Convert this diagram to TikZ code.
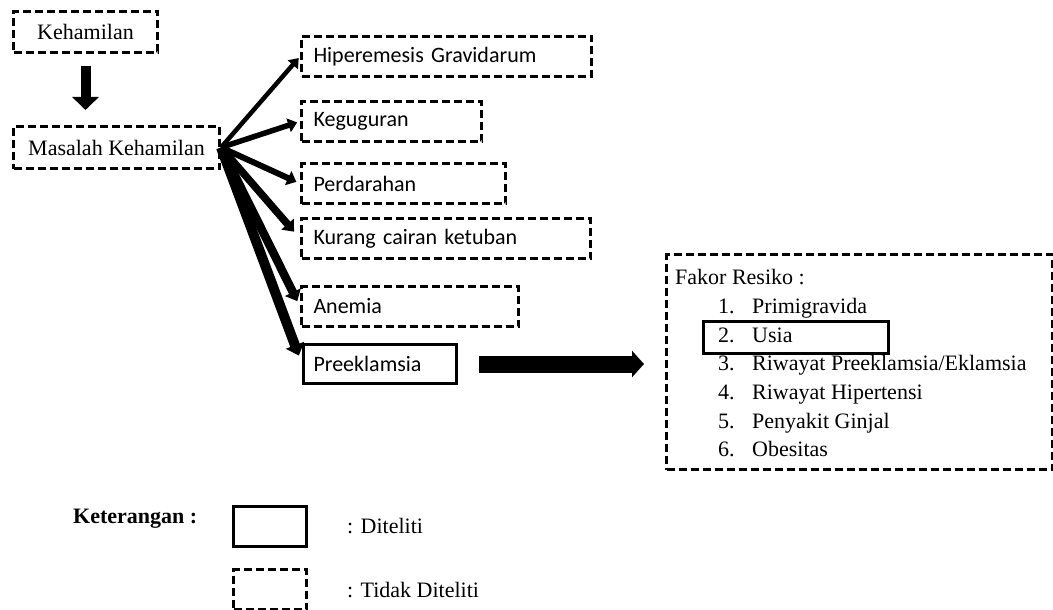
\documentclass[tikz,border=0pt]{standalone}
\usepackage{fontspec}
\setmainfont{Liberation Serif}
\newfontfamily\calibrifont{Carlito}
\usetikzlibrary{arrows.meta}
\newcommand\bigsz{\fontsize{22pt}{26pt}\selectfont}
\begin{document}
\begin{tikzpicture}[x=1pt,y=-1pt,
  dbox/.style={draw, line width=3pt, dash pattern=on 8pt off 4pt, inner ysep=0pt, anchor=north west},
  sbox/.style={draw, line width=3pt, inner ysep=0pt, anchor=north west},
  tnr/.style={font=\bigsz},
  cal/.style={font=\calibrifont\bigsz},
  lbl/.style={font=\bigsz, anchor=base west, inner sep=0pt},
  rbox/.style={text width=#1, inner xsep=12pt, align=left, minimum height=40pt}
]
\useasboundingbox (0,0) rectangle (1053,610);

% left column
\node[dbox, tnr, minimum width=144pt, minimum height=41pt, inner xsep=0pt] (keh) at (12,10) {Kehamilan};
\node[dbox, tnr, minimum width=206pt, minimum height=42pt, inner xsep=0pt] (mas) at (12,125) {Masalah Kehamilan};

% right column boxes
\node[dbox, cal, rbox=266pt] (hip) at (300,35) {Hiperemesis Gravidarum};
\node[dbox, cal, rbox=156pt] (keg) at (300,100) {Keguguran};
\node[dbox, cal, rbox=180pt] (per) at (300,162) {Perdarahan};
\node[dbox, cal, rbox=265pt] (kur) at (300,217) {Kurang cairan ketuban};
\node[dbox, cal, rbox=193pt] (ane) at (300,285) {Anemia};
\node[sbox, cal, text width=133pt, inner xsep=10pt, align=left, minimum height=39pt] (prek) at (302,343) {Preeklamsia};

% arrows
\draw[line width=10pt, -{Triangle[length=13pt,width=26pt]}, shorten <=12pt, shorten >=15pt]
  (keh.south) -- (keh.south |- mas.north);
\draw[line width=4.5pt, -{Triangle[length=9pt,width=13pt]}, shorten >=2pt] (mas.east) -- (hip.west);
\draw[line width=5.5pt, -{Triangle[length=9pt,width=14pt]}, shorten >=3pt] (mas.east) -- (keg.west);
\draw[line width=6pt, -{Triangle[length=9pt,width=15pt]}, shorten >=4pt] (mas.east) -- (per.west);
\draw[line width=7.5pt, -{Triangle[length=10pt,width=16pt]}, shorten >=9pt] (mas.east) -- (kur.west);
\draw[line width=8.5pt, -{Triangle[length=10pt,width=17pt]}, shorten >=6pt] (mas.east) -- (ane.west);
\draw[line width=10pt, -{Triangle[length=11pt,width=19pt]}, shorten >=9pt] (mas.east) -- (prek.west);

% risk factor box
\node[dbox, minimum width=386pt, minimum height=215pt] (fakor) at (665,253) {};
\node[sbox, line width=2.6pt, minimum width=185pt, minimum height=32pt] (usiabox) at (702,320) {};
\node[lbl] (fk) at (675,284) {Fakor Resiko :};
\node[lbl] (n1) at (718,313) {1.};
\node[lbl] (t1) at (752,313) {Primigravida};
\node[lbl] (n2) at (718,342) {2.};
\node[lbl] (t2) at (752,342) {Usia};
\node[lbl] (n3) at (718,370) {3.};
\node[lbl] (t3) at (752,370) {Riwayat Preeklamsia/Eklamsia};
\node[lbl] (n4) at (718,399) {4.};
\node[lbl] (t4) at (752,399) {Riwayat Hipertensi};
\node[lbl] (n5) at (718,428) {5.};
\node[lbl] (t5) at (752,428) {Penyakit Ginjal};
\node[lbl] (n6) at (718,456) {6.};
\node[lbl] (t6) at (752,456) {Obesitas};

\draw[line width=17pt, -{Triangle[length=12pt,width=26pt]}, shorten <=21pt, shorten >=21pt]
  (prek.east) -- (prek.east -| fakor.west);

% legend
\node[lbl, font=\bfseries\bigsz] (ket) at (73,523) {Keterangan :};
\node[sbox, minimum width=73pt, minimum height=40pt] (sleg) at (232,505) {};
\node[lbl] (lt1) at (347,533) {: Diteliti};
\node[dbox, minimum width=73pt, minimum height=40pt] (dleg) at (232,568) {};
\node[lbl] (lt2) at (347,597) {: Tidak Diteliti};
\end{tikzpicture}
\end{document}
